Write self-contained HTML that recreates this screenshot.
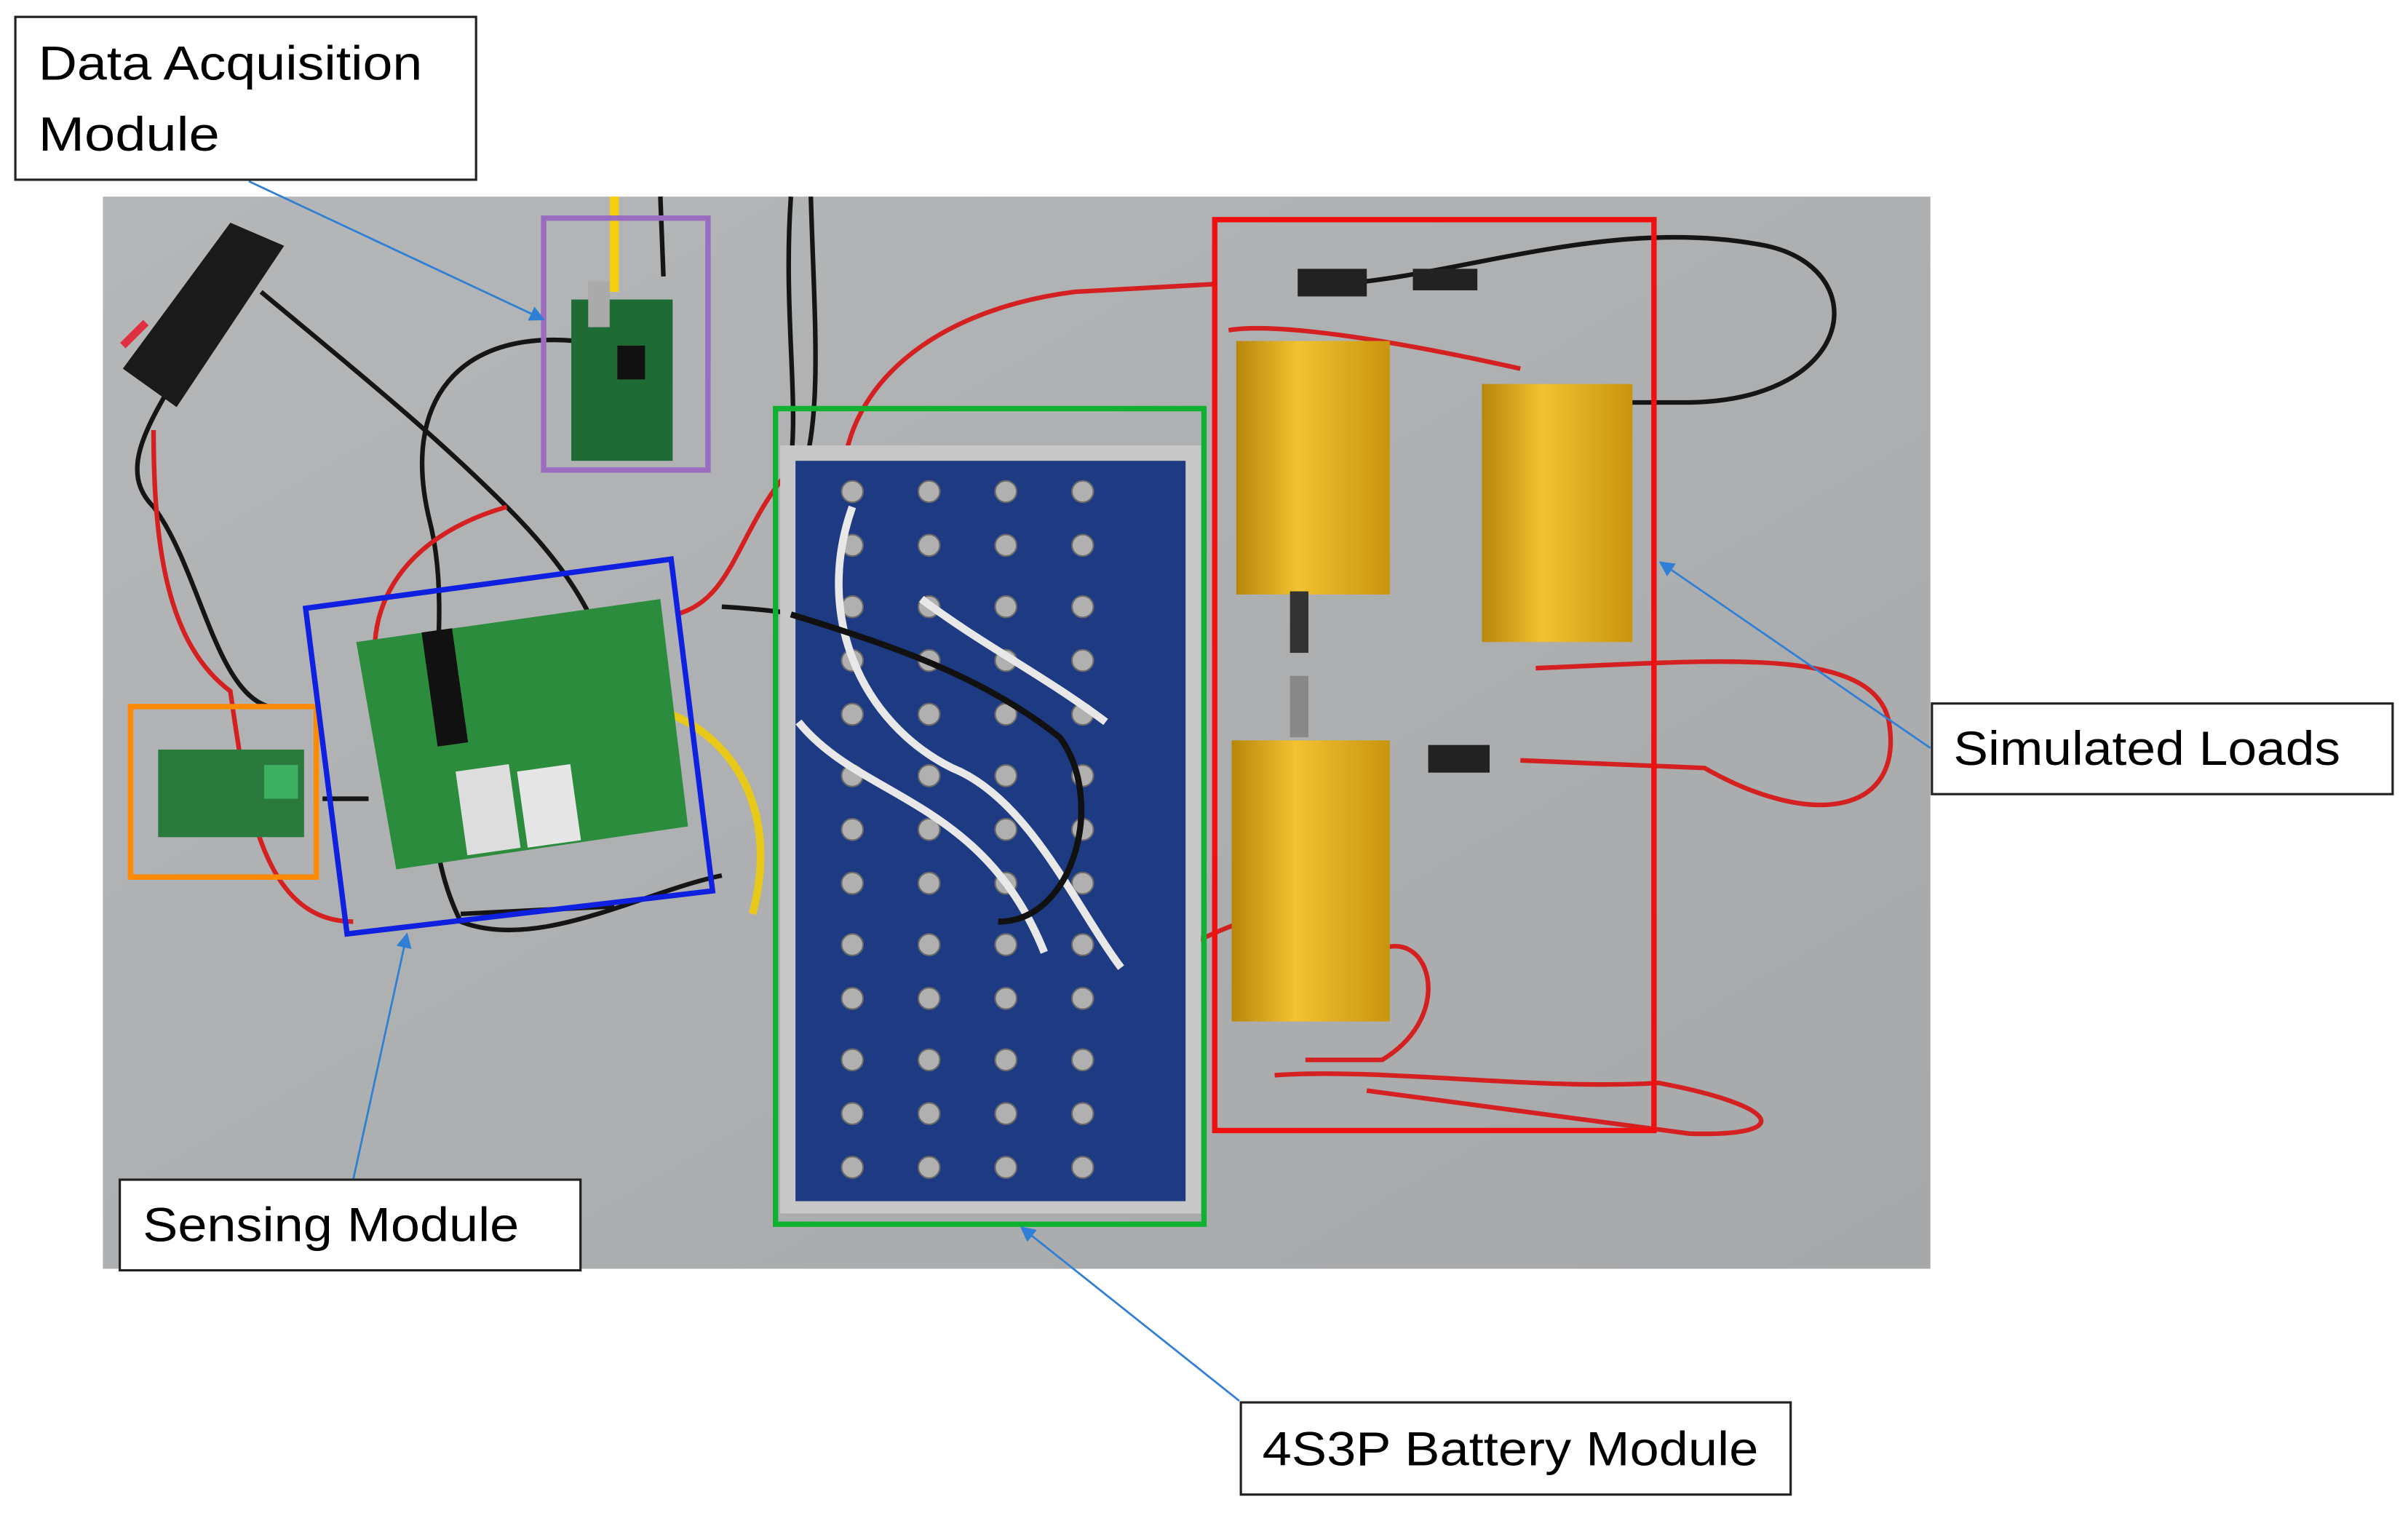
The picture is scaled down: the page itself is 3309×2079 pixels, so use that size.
<!DOCTYPE html>
<html><head><meta charset="utf-8"><style>
html,body{margin:0;padding:0;background:#fff;}
svg{display:block;}
text{font-family:"Liberation Sans",sans-serif;fill:#000;}
</style></head><body>
<svg width="3309" height="2079" viewBox="0 0 1568 985" preserveAspectRatio="none" xmlns="http://www.w3.org/2000/svg">
<defs>
<linearGradient id="bg" x1="0" y1="0" x2="1" y2="1"><stop offset="0" stop-color="#b4b6b8"/><stop offset="1" stop-color="#a6a8aa"/></linearGradient>
<linearGradient id="gold" x1="0" y1="0" x2="1" y2="0"><stop offset="0" stop-color="#b8860b"/><stop offset="0.4" stop-color="#f2c230"/><stop offset="1" stop-color="#c9940e"/></linearGradient>
<marker id="ah" markerWidth="10" markerHeight="10" refX="9" refY="5" orient="auto" markerUnits="userSpaceOnUse"><path d="M0,0 L10,5 L0,10 z" fill="#2f7fd6"/></marker>
<g id="col" fill="#b0b0b0" stroke="#6a6a6a" stroke-width="1">
<circle cx="0" cy="320" r="7"/><circle cx="0" cy="355" r="7"/><circle cx="0" cy="395" r="7"/><circle cx="0" cy="430" r="7"/><circle cx="0" cy="465" r="7"/><circle cx="0" cy="505" r="7"/><circle cx="0" cy="540" r="7"/><circle cx="0" cy="575" r="7"/><circle cx="0" cy="615" r="7"/><circle cx="0" cy="650" r="7"/><circle cx="0" cy="690" r="7"/><circle cx="0" cy="725" r="7"/><circle cx="0" cy="760" r="7"/>
</g>
</defs>
<rect width="1568" height="985" fill="#fff"/>
<rect x="67" y="128" width="1190" height="698" fill="url(#bg)"/>

<g fill="none" stroke="#151515" stroke-width="3">
<path d="M140,200 C110,260 70,300 100,330 C130,370 140,450 175,460"/>
<path d="M170,190 C230,240 280,280 330,330 C380,380 400,420 405,480"/>
<path d="M375,222 C300,215 260,260 280,340 C300,420 260,520 300,600 C350,620 420,580 470,570"/>
<path d="M515,128 C510,200 520,260 515,300"/>
<path d="M528,128 C530,200 535,260 525,300"/>
<path d="M870,185 C950,180 1050,140 1150,160 C1220,175 1210,260 1100,262 L1060,262"/>
<path d="M470,395 C560,400 600,420 680,440 C700,480 640,540 650,580 C680,620 700,640 735,630"/>
<path d="M430,128 L432,180"/>
<path d="M210,520 L240,520 M300,595 L400,590"/>
</g>
<g fill="none" stroke="#d42020" stroke-width="3">
<path d="M550,300 C560,240 620,200 700,190 L790,185"/>
<path d="M440,400 C480,390 480,340 520,300"/>
<path d="M100,280 C100,360 110,420 150,450 C160,520 170,600 230,600"/>
<path d="M330,330 C260,350 230,400 250,460"/>
<path d="M1000,435 C1120,430 1220,420 1230,470 C1240,530 1180,540 1110,500 L990,495"/>
<path d="M830,700 C900,695 1000,710 1080,705 C1160,720 1170,740 1100,738 L890,710"/>
<path d="M895,620 C930,600 950,660 900,690 L850,690"/>
<path d="M740,630 C770,620 780,610 810,600"/>
<path d="M800,215 C830,210 900,220 990,240"/>
</g>
<path d="M400,128 L400,190" stroke="#f5d010" stroke-width="6"/>
<path d="M640,440 C690,400 710,330 715,300" stroke="#e8c818" stroke-width="5" fill="none"/>
<path d="M420,460 C470,470 510,520 490,595" stroke="#e8c818" stroke-width="5" fill="none"/>
<path d="M515,570 C560,540 640,480 700,440" stroke="#e8c818" stroke-width="4" fill="none"/>

<path d="M80,240 L150,145 L185,160 L115,265 z" fill="#1a1a1a"/>
<path d="M80,225 L95,210" stroke="#e03040" stroke-width="5"/>

<rect x="372" y="195" width="66" height="105" fill="#1f6b35"/>
<rect x="383" y="183" width="14" height="30" fill="#aaa"/>
<rect x="402" y="225" width="18" height="22" fill="#111"/>
<rect x="103" y="488" width="95" height="57" fill="#2a7a3e"/>
<rect x="172" y="498" width="22" height="22" fill="#3cb060"/>
<polygon points="232,418 430,390 448,538 258,566" fill="#2c8c3e"/>
<rect x="280" y="410" width="20" height="75" fill="#111" transform="rotate(-8 290 450)"/>
<rect x="300" y="500" width="35" height="55" fill="#ddd" transform="rotate(-8 315 525)"/>
<rect x="340" y="500" width="35" height="50" fill="#e6e6e6" transform="rotate(-8 355 525)"/>

<rect x="508" y="290" width="274" height="500" fill="#c8c8c8"/>
<rect x="518" y="300" width="254" height="482" fill="#1d3a82"/>
<use href="#col" x="555"/><use href="#col" x="605"/><use href="#col" x="655"/><use href="#col" x="705"/>
<g fill="none" stroke="#e8e8e8" stroke-width="5">
<path d="M555,330 C530,400 560,470 620,500 C670,520 700,590 730,630"/>
<path d="M520,470 C560,520 640,520 680,620"/>
<path d="M600,390 C640,420 680,440 720,470"/>
</g>
<path d="M515,400 C580,420 640,440 690,480 C720,520 700,600 650,600" fill="none" stroke="#111" stroke-width="4"/>

<rect x="805" y="222" width="100" height="165" fill="url(#gold)"/>
<rect x="965" y="250" width="98" height="168" fill="url(#gold)"/>
<rect x="802" y="482" width="103" height="183" fill="url(#gold)"/>
<rect x="840" y="385" width="12" height="40" fill="#333"/>
<rect x="840" y="440" width="12" height="40" fill="#888"/>
<rect x="930" y="485" width="40" height="18" fill="#222"/>
<rect x="845" y="175" width="45" height="18" fill="#222"/>
<rect x="920" y="175" width="42" height="14" fill="#222"/>

<g fill="none" stroke-width="3.5">
<rect x="354" y="142" width="107" height="164" stroke="#9a6dc0"/>
<rect x="85" y="460" width="121" height="111" stroke="#ff8a00"/>
<polygon points="199,396 437,364 464,580 226,608" stroke="#1020e0"/>
<rect x="505" y="266" width="279" height="531" stroke="#10b030"/>
<rect x="791" y="143" width="286" height="593" stroke="#f01010"/>
</g>

<g stroke="#2f7fd6" stroke-width="1.3" fill="none" marker-end="url(#ah)">
<line x1="162" y1="118" x2="354" y2="208"/>
<line x1="230" y1="768" x2="265" y2="608"/>
<line x1="1257" y1="487" x2="1081" y2="366"/>
<line x1="807" y1="912" x2="665" y2="799"/>
</g>

<g fill="#fff" stroke="#222" stroke-width="1.5">
<rect x="10" y="11" width="300" height="106"/>
<rect x="78" y="768" width="300" height="59"/>
<rect x="1258" y="458" width="300" height="59"/>
<rect x="808" y="913" width="358" height="60"/>
</g>
<text x="25" y="52" font-size="31" textLength="250" lengthAdjust="spacingAndGlyphs">Data Acquisition</text>
<text x="25" y="98" font-size="31" textLength="118" lengthAdjust="spacingAndGlyphs">Module</text>
<text x="93" y="808" font-size="31" textLength="245" lengthAdjust="spacingAndGlyphs">Sensing Module</text>
<text x="1272" y="498" font-size="31" textLength="252" lengthAdjust="spacingAndGlyphs">Simulated Loads</text>
<text x="822" y="954" font-size="31" textLength="323" lengthAdjust="spacingAndGlyphs">4S3P Battery Module</text>
</svg>
</body></html>
